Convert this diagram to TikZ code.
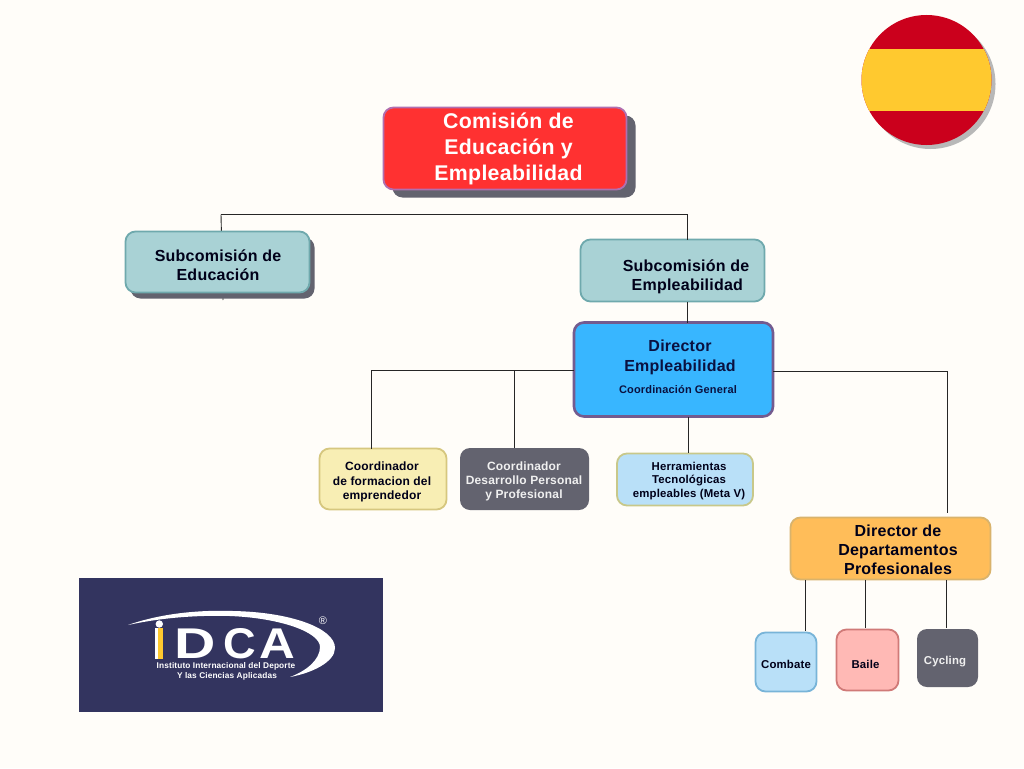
\documentclass[tikz,border=0pt]{standalone}
\usepackage{fontspec}
\setmainfont[LetterSpace=1.5]{Liberation Sans}
\usetikzlibrary{shadows,backgrounds}
\definecolor{paper}{HTML}{FFFDF9}
\definecolor{slate}{HTML}{63636F}
\definecolor{aqua}{HTML}{A9D2D5}
\definecolor{aqualine}{HTML}{6FA9AD}
\definecolor{sky}{HTML}{B9E0F8}
\definecolor{navy}{HTML}{33345F}
\definecolor{flagred}{HTML}{CB001C}
\definecolor{flagyellow}{HTML}{FFC92F}
\tikzset{
  box/.style={rectangle,rounded corners=10pt,inner sep=0pt,outer sep=0pt,line width=1.8pt},
  bigtxt/.style={align=center,text=white,yshift=-1.5pt,font=\fontsize{21.3}{26}\selectfont\bfseries},
  midtxt/.style={align=center,text=black!90!blue,yshift=-1.5pt,font=\fontsize{16}{19.3}\selectfont\bfseries},
  smalltxt/.style={align=center,text=black!90!blue,yshift=-1.5pt,font=\fontsize{12}{14.3}\selectfont\bfseries},
  tinytxt/.style={align=center,text=black!90!blue,yshift=-1.5pt,font=\fontsize{11.4}{13.3}\selectfont\bfseries},
  link/.style={line width=0.9pt,black!85},
  logotxt/.style={text=white,inner sep=0pt,font=\fontsize{8.3}{9}\selectfont\bfseries},
  logoletter/.style={text=white,inner sep=0pt,font=\fontsize{43}{32}\selectfont\bfseries}
}
\begin{document}
\begin{tikzpicture}[x=1pt,y=-1pt]
\useasboundingbox (0,0) rectangle (1024,768);
\begin{scope}[on background layer]
\fill[paper] (0,0) rectangle (1024,768);
\end{scope}

% flag
\fill[black!28] (930.5,84) circle (65);
\begin{scope}
\clip (926.5,80) circle (65);
\fill[flagred] (860,14) rectangle (993,146);
\fill[flagyellow] (860,49.5) rectangle (993,111);
\end{scope}

% boxes
\node[box,minimum width=243pt,minimum height=82pt,fill={rgb,255:red,255;green,49;blue,49},draw={rgb,255:red,176;green,111;blue,176},
  general shadow={shadow xshift=9pt,shadow yshift=-8pt,fill=slate,draw=none}] (comision) at (505,148.5) {};
\node[bigtxt] (comisionText) at (508.5,147.5) {Comisión de\\Educación y\\Empleabilidad};

\node[box,minimum width=184pt,minimum height=61pt,fill=aqua,draw=aqualine,
  general shadow={shadow xshift=5pt,shadow yshift=-6pt,fill=slate,draw=none}] (subEdu) at (217.5,262) {};
\node[midtxt] (subEduText) at (218,263.5) {Subcomisión de\\Educación};

\node[box,minimum width=184pt,minimum height=62pt,fill=aqua,draw=aqualine] (subEmp) at (672.5,270.5) {};
\node[midtxt] (subEmpText) at (686,275) {Subcomisión de\\ \,Empleabilidad};

\node[box,line width=2.6pt,minimum width=199pt,minimum height=94pt,fill={rgb,255:red,56;green,182;blue,255},draw={rgb,255:red,115;green,91;blue,143}] (director) at (673.5,369.5) {};
\node[midtxt,text={rgb,255:red,10;green,17;blue,64}] (directorText) at (680,356) {Director\\Empleabilidad};
\node[font=\fontsize{11}{12}\selectfont\bfseries,text={rgb,255:red,10;green,17;blue,64}] (directorSub) at (678,390) {Coordinación General};

\node[box,minimum width=127pt,minimum height=61pt,fill={rgb,255:red,248;green,238;blue,180},draw={rgb,255:red,214;green,199;blue,127}] (formacion) at (383,479) {};
\node[smalltxt] (formacionText) at (382,480.5) {Coordinador\\de formacion del\\emprendedor};

\node[box,minimum width=129pt,minimum height=62pt,fill=slate] (desarrollo) at (524.5,479) {};
\node[smalltxt,text=white!94!black] (desarrolloText) at (524,480) {Coordinador\\Desarrollo Personal\\y Profesional};

\node[box,minimum width=136pt,minimum height=52pt,fill=sky,draw={rgb,255:red,200;green,200;blue,138}] (herramientas) at (685,479.5) {};
\node[tinytxt] (herramientasText) at (689,479.5) {Herramientas\\Tecnológicas\\empleables (Meta V)};

\node[box,minimum width=200pt,minimum height=62pt,fill={rgb,255:red,255;green,189;blue,89},draw={rgb,255:red,217;green,179;blue,108}] (deptos) at (890.5,548.5) {};
\node[midtxt] (deptosText) at (898,548.3) {Director de\\Departamentos\\Profesionales};

\node[box,minimum width=61pt,minimum height=59pt,fill=sky,draw={rgb,255:red,120;green,180;blue,216}] (combate) at (786,662) {};
\node[tinytxt] (combateText) at (786,663) {Combate};

\node[box,minimum width=62pt,minimum height=61pt,fill={rgb,255:red,255;green,185;blue,181},draw={rgb,255:red,208;green,122;blue,120}] (baile) at (867.5,660) {};
\node[tinytxt] (baileText) at (865.5,663) {Baile};

\node[box,minimum width=61pt,minimum height=58pt,fill=slate] (cycling) at (947.5,658) {};
\node[tinytxt,text=white!94!black] (cyclingText) at (945,660) {Cycling};

% connectors
\coordinate (forkEdu) at (221,214.5);
\coordinate (forkEmp) at (687.5,214.5);
\coordinate (tickEdu) at (223,300);
\coordinate (forkForm) at (371,370);
\coordinate (forkDes) at (514,370);
\coordinate (forkDeptos) at (947,371.5);
\coordinate (endDeptos) at (947,513);
\begin{scope}[on background layer]
\draw[link] (forkEdu) -- (tickEdu);
\end{scope}
\draw[link] (forkEdu) -- (forkEmp);
\draw[link] (forkEmp) -- (forkEmp |- subEmp.north);
\draw[link] (forkEmp |- subEmp.south) -- (forkEmp |- director.north);
\draw[link] (director.west |- forkForm) -- (forkForm);
\draw[link] (forkForm) -- (forkForm |- formacion.north);
\draw[link] (forkDes) -- (forkDes |- desarrollo.north);
\draw[link] (688,417) -- (688,453);
\draw[link] (director.east |- forkDeptos) -- (forkDeptos) -- (endDeptos);
\draw[link] (805,580) -- (805,631);
\draw[link] (865.5,580) -- (865.5,628);
\draw[link] (946,580) -- (946,628);

% logo
\fill[navy] (79,578) rectangle (383,712);
\fill[white] (128,625) .. controls (165,612) and (205,610) .. (233,611)
  .. controls (290,612) and (335,628) .. (335,648)
  .. controls (335,662) and (312,673) .. (290,677)
  .. controls (306,671) and (320,660) .. (320,647)
  .. controls (320,632) and (280,618) .. (230,616)
  .. controls (195,615) and (160,618) .. (128,625) -- cycle;
\fill[white] (159.3,624) circle (3.7);
\fill[white] (155,628) rectangle (157.5,659);
\fill[flagyellow] (157.5,628) rectangle (162.7,659);
\node[logoletter,xscale=1.33] (letterD) at (195,644) {D};
\node[logoletter,xscale=1.05] (letterC) at (240,644) {C};
\node[logoletter,xscale=1.15] (letterA) at (277,644) {A};
\node[logotxt] (logoLineA) at (226,666.5) {Instituto Internacional del Deporte};
\node[logotxt] (logoLineB) at (227,676) {Y las Ciencias Aplicadas};
\node[text=white,font=\fontsize{11}{11}\selectfont,inner sep=0pt] (logoMark) at (323,621) {®};
\end{tikzpicture}
\end{document}
